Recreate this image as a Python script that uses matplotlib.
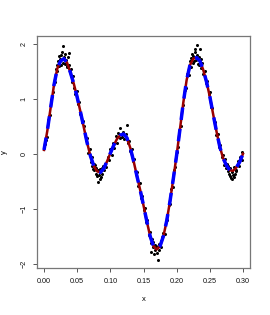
import numpy as np
import matplotlib
matplotlib.use("Agg")
import matplotlib.pyplot as plt

plt.rcParams['font.family'] = ['Liberation Sans', 'DejaVu Sans']

# fitted curve
curve_x = [0.000, 0.005, 0.010, 0.015, 0.020, 0.025, 0.030, 0.035, 0.040, 0.045,
           0.050, 0.055, 0.060, 0.065, 0.070, 0.075, 0.080, 0.085, 0.090, 0.095,
           0.100, 0.105, 0.110, 0.115, 0.120, 0.125, 0.130, 0.135, 0.140, 0.145,
           0.150, 0.155, 0.160, 0.165, 0.170, 0.175, 0.180, 0.185, 0.190, 0.195,
           0.200, 0.205, 0.210, 0.215, 0.220, 0.225, 0.230, 0.235, 0.240, 0.245,
           0.250, 0.255, 0.260, 0.265, 0.270, 0.275, 0.280, 0.285, 0.290, 0.295,
           0.300]
curve_y = [0.07, 0.42, 0.84, 1.25, 1.55, 1.69, 1.73, 1.65, 1.47, 1.27,
           1.03, 0.76, 0.48, 0.20, -0.04, -0.22, -0.32, -0.34, -0.27, -0.14,
           0.01, 0.15, 0.27, 0.34, 0.36, 0.29, 0.11, -0.13, -0.40, -0.66,
           -0.94, -1.23, -1.50, -1.68, -1.74, -1.68, -1.50, -1.22, -0.86, -0.45,
           -0.02, 0.45, 0.93, 1.34, 1.61, 1.73, 1.75, 1.69, 1.53, 1.31,
           1.04, 0.72, 0.41, 0.13, -0.08, -0.21, -0.30, -0.31, -0.25, -0.15,
           0.00]

# noisy observations
obs_x = [0.001, 0.003, 0.004, 0.006, 0.007, 0.009, 0.011, 0.012, 0.014, 0.016,
         0.017, 0.018, 0.019, 0.020, 0.021, 0.022, 0.023, 0.024, 0.025, 0.026,
         0.027, 0.028, 0.029, 0.030, 0.031, 0.032, 0.033, 0.034, 0.035, 0.036,
         0.037, 0.038, 0.039, 0.040, 0.042, 0.043, 0.045, 0.047, 0.049, 0.051,
         0.053, 0.055, 0.057, 0.059, 0.061, 0.063, 0.065, 0.067, 0.069, 0.071,
         0.072, 0.073, 0.074, 0.075, 0.076, 0.077, 0.078, 0.079, 0.080, 0.081,
         0.082, 0.083, 0.084, 0.085, 0.086, 0.087, 0.088, 0.089, 0.090, 0.092,
         0.094, 0.096, 0.098, 0.100, 0.102, 0.104, 0.106, 0.108, 0.110, 0.112,
         0.114, 0.115, 0.117, 0.119, 0.121, 0.123, 0.125, 0.126, 0.128, 0.130,
         0.132, 0.134, 0.136, 0.138, 0.140, 0.142, 0.144, 0.146, 0.148, 0.150,
         0.152, 0.154, 0.156, 0.158, 0.160, 0.161, 0.162, 0.163, 0.164, 0.165,
         0.166, 0.167, 0.168, 0.169, 0.170, 0.172, 0.173, 0.174, 0.176, 0.177,
         0.178, 0.180, 0.182, 0.184, 0.186, 0.188, 0.190, 0.192, 0.194, 0.196,
         0.198, 0.200, 0.202, 0.204, 0.206, 0.208, 0.210, 0.212, 0.214, 0.216,
         0.218, 0.220, 0.221, 0.222, 0.223, 0.224, 0.225, 0.226, 0.227, 0.228,
         0.229, 0.230, 0.231, 0.232, 0.233, 0.234, 0.235, 0.236, 0.237, 0.238,
         0.240, 0.242, 0.244, 0.246, 0.248, 0.250, 0.252, 0.254, 0.256, 0.258,
         0.260, 0.262, 0.264, 0.266, 0.268, 0.270, 0.272, 0.273, 0.274, 0.276,
         0.277, 0.278, 0.279, 0.280, 0.281, 0.282, 0.283, 0.284, 0.285, 0.286,
         0.287, 0.288, 0.289, 0.290, 0.292, 0.294, 0.296, 0.298, 0.299]
obs_y = [0.18, 0.25, 0.30, 0.62, 0.68, 0.70, 0.98, 1.05, 1.12, 1.40,
         1.30, 1.55, 1.62, 1.50, 1.68, 1.60, 1.78, 1.72, 1.62, 1.80,
         1.86, 1.66, 1.96, 1.76, 1.64, 1.82, 1.70, 1.60, 1.58, 1.76,
         1.84, 1.62, 1.48, 1.55, 1.30, 1.42, 1.20, 1.08, 1.15, 0.90,
         0.95, 0.72, 0.58, 0.60, 0.50, 0.25, 0.28, 0.02, 0.08, -0.15,
         -0.05, -0.22, -0.28, -0.18, -0.30, -0.20, -0.36, -0.26, -0.40, -0.30,
         -0.52, -0.38, -0.46, -0.28, -0.42, -0.25, -0.36, -0.22, -0.30, -0.18,
         -0.24, -0.05, -0.12, 0.08, -0.02, 0.20, 0.10, 0.32, 0.20, 0.38,
         0.28, 0.46, 0.30, 0.40, 0.26, 0.36, 0.52, 0.20, 0.24, 0.05,
         0.08, -0.14, -0.10, -0.36, -0.34, -0.58, -0.54, -0.80, -0.76, -1.02,
         -0.98, -1.25, -1.20, -1.48, -1.42, -1.62, -1.78, -1.55, -1.70, -1.60,
         -1.82, -1.66, -1.76, -1.68, -1.80, -1.93, -1.64, -1.76, -1.58, -1.70,
         -1.52, -1.44, -1.46, -1.22, -1.20, -0.94, -0.92, -0.64, -0.60, -0.30,
         -0.24, 0.04, 0.12, 0.42, 0.50, 0.80, 0.88, 1.16, 1.20, 1.46,
         1.44, 1.68, 1.58, 1.74, 1.82, 1.66, 1.78, 1.68, 1.86, 1.90,
         1.70, 1.80, 1.98, 1.64, 1.76, 1.62, 1.90, 1.72, 1.56, 1.66,
         1.46, 1.50, 1.28, 1.32, 1.08, 1.12, 0.86, 0.84, 0.60, 0.58,
         0.34, 0.36, 0.12, 0.16, -0.06, -0.02, -0.20, -0.10, -0.26, -0.18,
         -0.32, -0.22, -0.36, -0.40, -0.25, -0.44, -0.34, -0.46, -0.38, -0.42,
         -0.24, -0.36, -0.30, -0.32, -0.14, -0.22, -0.06, -0.12, 0.04]

x_ticks = [0.00, 0.05, 0.10, 0.15, 0.20, 0.25, 0.30]
x_labels = ['0.00', '0.05', '0.10', '0.15', '0.20', '0.25', '0.30']
y_ticks = [-2, -1, 0, 1, 2]
y_labels = ['\u22122', '\u22121', '0', '1', '2']

fig = plt.figure(figsize=(2.7, 3.15), dpi=100)
ax = fig.add_axes([0.137, 0.149, 0.789, 0.737])

ax.plot(obs_x, obs_y, 'o', color='black', ms=2.2, mew=0, zorder=2)
ax.plot(curve_x, curve_y, color='#990000', lw=1.8, zorder=3)
ax.plot(curve_x, curve_y, color='#0000ff', lw=2.5, zorder=4,
        linestyle=(0, (3.6, 2.6)), dash_capstyle='butt')

ax.set_xlim(-0.0106, 0.3106)
ax.set_ylim(-2.08, 2.145)
ax.set_xticks(x_ticks)
ax.set_xticklabels(x_labels)
ax.set_yticks(y_ticks)
ax.set_yticklabels(y_labels, rotation=90, va='center')
ax.tick_params(direction='out', length=3, width=0.7, colors='#555555',
               labelsize=5.2, labelcolor='#111111', pad=4)
for s in ax.spines.values():
    s.set_color('#777777')
    s.set_linewidth(0.9)

ax.set_xlabel('x', fontsize=5.5, labelpad=8)
ax.set_ylabel('y', fontsize=5.5, labelpad=9)

fig.savefig('out.png', dpi=100)
